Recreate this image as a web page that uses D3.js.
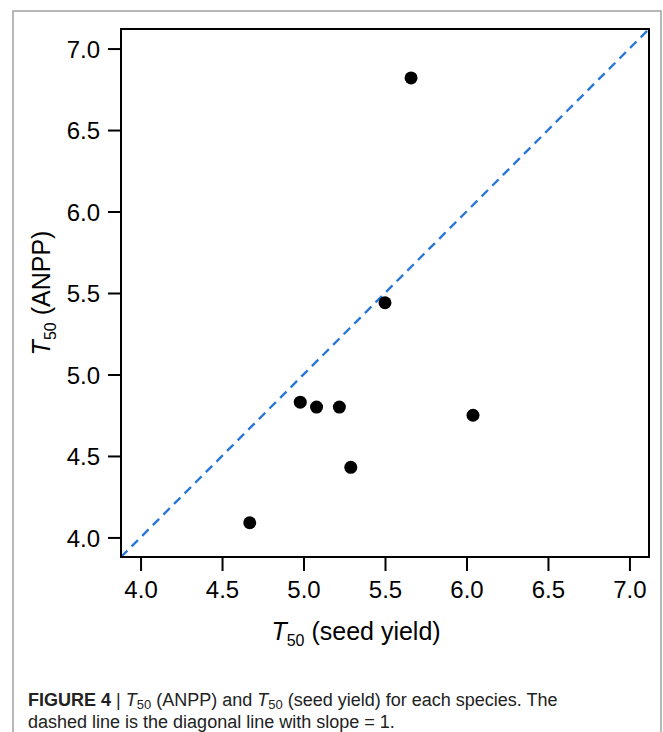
<!DOCTYPE html>
<html>
<head>
<meta charset="utf-8">
<script src="https://cdn.jsdelivr.net/npm/d3@7"></script>
<style>
  body { margin: 0; background: #fff; }
  text { font-family: "Liberation Sans", Arial, sans-serif; }
</style>
</head>
<body>
<div id="chart"></div>
<script>
// T50 values, one entry per species
var seedYield = [5.66, 5.50, 4.98, 5.08, 5.22, 6.04, 5.29, 4.67];
var anpp      = [6.82, 5.44, 4.83, 4.80, 4.80, 4.75, 4.43, 4.09];
var tickVals  = [4.0, 4.5, 5.0, 5.5, 6.0, 6.5, 7.0];
var axisRange = [3.88, 7.12];

var W = 663, H = 732;
var plotL = 121, plotR = 649, plotT = 29, plotB = 557;

var svg = d3.select("#chart")
  .append("svg")
  .attr("width", W)
  .attr("height", H);

// grey figure frame (bottom edge runs off the page)
svg.append("rect")
  .attr("x", 13).attr("y", 11)
  .attr("width", 648).attr("height", 760)
  .attr("fill", "none")
  .attr("stroke", "#a0a0a0")
  .attr("stroke-width", 1.5);

var x = d3.scaleLinear().domain(axisRange).range([plotL, plotR]);
var y = d3.scaleLinear().domain(axisRange).range([plotB, plotT]);

var data = seedYield.map(function(d, i) { return {sx: d, an: anpp[i]}; });

// diagonal 1:1 line
svg.append("line")
  .attr("x1", x(axisRange[0])).attr("y1", y(axisRange[0]))
  .attr("x2", x(axisRange[1])).attr("y2", y(axisRange[1]))
  .attr("stroke", "#2a78d6")
  .attr("stroke-width", 2.4)
  .attr("stroke-dasharray", "9,6");

// points
svg.selectAll(".pt")
  .data(data)
  .enter().append("circle")
  .attr("class", "pt")
  .attr("cx", function(d) { return x(d.sx); })
  .attr("cy", function(d) { return y(d.an); })
  .attr("r", 6.5)
  .attr("fill", "#000");

// axes
var xAxis = d3.axisBottom(x).tickValues(tickVals).tickSize(14).tickFormat(d3.format(".1f"));
var yAxis = d3.axisLeft(y).tickValues(tickVals).tickSize(13).tickFormat(d3.format(".1f"));

var gx = svg.append("g").attr("transform", "translate(0," + plotB + ")").call(xAxis);
var gy = svg.append("g").attr("transform", "translate(" + plotL + ",0)").call(yAxis);

[gx, gy].forEach(function(g) {
  g.select(".domain").remove();
  g.selectAll(".tick line").attr("stroke", "#000").attr("stroke-width", 2);
  g.selectAll(".tick text")
    .attr("fill", "#000")
    .style("font-size", "24px");
});
gx.selectAll(".tick text").attr("y", 24);
gy.selectAll(".tick text").attr("x", -21).attr("dy", "0.36em");

// plot box
svg.append("rect")
  .attr("x", plotL).attr("y", plotT)
  .attr("width", plotR - plotL).attr("height", plotB - plotT)
  .attr("fill", "none")
  .attr("stroke", "#000")
  .attr("stroke-width", 2);

// axis titles
function t50Label(sel, rest) {
  sel.append("tspan").style("font-style", "italic").text("T");
  sel.append("tspan").attr("dy", 6).style("font-size", "16px").text("50");
  sel.append("tspan").attr("dy", -6).text(" " + rest);
}

var xt = svg.append("text")
  .attr("x", 356).attr("y", 640)
  .attr("text-anchor", "middle")
  .style("font-size", "25px")
  .attr("fill", "#000");
t50Label(xt, "(seed yield)");

var yt = svg.append("text")
  .attr("transform", "translate(50," + ((plotT + plotB) / 2) + ") rotate(-90)")
  .attr("text-anchor", "middle")
  .style("font-size", "25px")
  .attr("fill", "#000");
t50Label(yt, "(ANPP)");

// caption
var cap = svg.append("text")
  .attr("x", 28).attr("y", 706)
  .style("font-size", "18px")
  .attr("fill", "#222");
cap.append("tspan").style("font-weight", "bold").text("FIGURE 4");
cap.append("tspan").text(" | ");
cap.append("tspan").style("font-style", "italic").text("T");
cap.append("tspan").attr("dy", 3).style("font-size", "13px").text("50");
cap.append("tspan").attr("dy", -3).text(" (ANPP) and ");
cap.append("tspan").style("font-style", "italic").text("T");
cap.append("tspan").attr("dy", 3).style("font-size", "13px").text("50");
cap.append("tspan").attr("dy", -3).text(" (seed yield) for each species. The");

svg.append("text")
  .attr("x", 28).attr("y", 728)
  .style("font-size", "18px")
  .attr("fill", "#222")
  .text("dashed line is the diagonal line with slope = 1.");
</script>
</body>
</html>
